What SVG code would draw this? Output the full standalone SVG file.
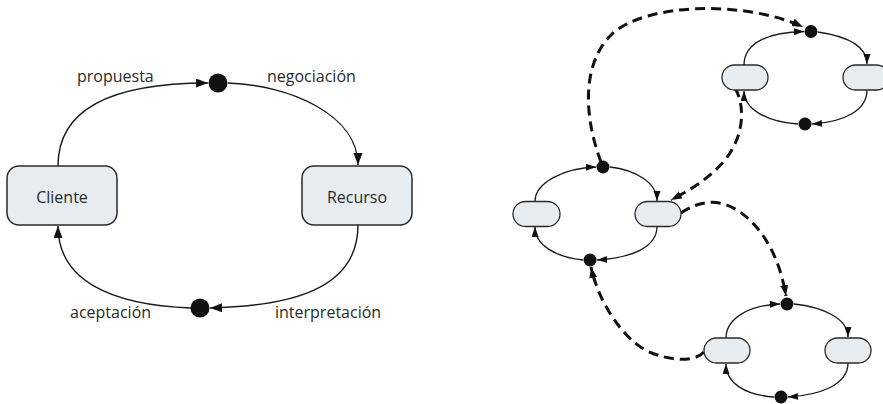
<svg xmlns="http://www.w3.org/2000/svg" width="883" height="404" viewBox="0 0 883 404">
<defs>
<style>
.box{fill:#e7ecf1;stroke:#2a2a2a;stroke-width:1.5}
.pill{fill:#e7ecf1;stroke:#2a2a2a;stroke-width:1.3}
.dot{fill:#111}
.lbl{font-family:"Open Sans","Noto Sans",sans-serif;font-size:16px;fill:#2a2a2a}
.c{text-anchor:middle}
.arcL{fill:none;stroke:#1a1a1a;stroke-width:1.4}
.arcS{fill:none;stroke:#1a1a1a;stroke-width:1.3}
.dash{fill:none;stroke:#111;stroke-width:3;stroke-dasharray:10 6}
</style>
<marker id="aL" markerUnits="userSpaceOnUse" markerWidth="14" markerHeight="10" refX="12" refY="4.5" orient="auto"><path d="M0,0 L12,4.5 L0,9 z" fill="#111"/></marker>
<marker id="aS" markerUnits="userSpaceOnUse" markerWidth="12" markerHeight="9" refX="10" refY="3.5" orient="auto"><path d="M0,0 L10,3.5 L0,7 z" fill="#111"/></marker>
<marker id="aD" markerUnits="userSpaceOnUse" markerWidth="14" markerHeight="10" refX="11" refY="4" orient="auto"><path d="M0,0 L11,4 L0,8 z" fill="#111"/></marker>
</defs>

<g id="connectors">
<path class="arcL" d="M58,166 C58,100 130,83 208,83" marker-end="url(#aL)"/>
<path class="arcL" d="M228,83 C290,85 358,115 358,165" marker-end="url(#aL)"/>
<path class="arcL" d="M358,225 C358,290 290,306 210,308" marker-end="url(#aL)"/>
<path class="arcL" d="M191,308 C110,305 58,280 58,226" marker-end="url(#aL)"/>

<path class="arcS" d="M744,65 C744,42 770,32 804,31.5" marker-end="url(#aS)"/>
<path class="arcS" d="M818,32 C845,36 867,45 867,64" marker-end="url(#aS)"/>
<path class="arcS" d="M867,90 C867,110 845,122 812,124" marker-end="url(#aS)"/>
<path class="arcS" d="M798,124 C765,122 744,108 744,91" marker-end="url(#aS)"/>

<path class="arcS" d="M535,201.5 C535,182 565,168 596,167" marker-end="url(#aS)"/>
<path class="arcS" d="M610,167 C635,170 657,182 657,201" marker-end="url(#aS)"/>
<path class="arcS" d="M657,226.5 C657,248 630,258 597,260" marker-end="url(#aS)"/>
<path class="arcS" d="M583,260 C555,257 535,245 535,227" marker-end="url(#aS)"/>

<path class="arcS" d="M726,338 C726,318 750,305 780,304" marker-end="url(#aS)"/>
<path class="arcS" d="M794,304 C822,307 848,318 848,337" marker-end="url(#aS)"/>
<path class="arcS" d="M848,363 C848,385 820,395 788,397" marker-end="url(#aS)"/>
<path class="arcS" d="M774,397 C745,395 726,383 726,364" marker-end="url(#aS)"/>

<path class="dash" d="M601,162 C585,120 580,65 612,34 C645,3 745,0 803,27" marker-end="url(#aD)"/>
<path class="dash" d="M735,88 C745,105 745,135 725,160 C710,178 690,190 671,200" marker-end="url(#aD)"/>
<path class="dash" d="M681,213 C700,200 720,198 740,212 C765,230 780,260 786,296" marker-end="url(#aD)"/>
<path class="dash" d="M704,352 C695,362 670,362 645,350 C620,335 598,300 591,267" marker-end="url(#aD)"/>
</g>

<g id="cliente"><rect class="box" x="7" y="166" width="110" height="59" rx="12"/><text class="lbl c" x="62" y="202.5">Cliente</text></g>
<g id="recurso"><rect class="box" x="302" y="166" width="110" height="59" rx="12"/><text class="lbl c" x="357" y="202.5">Recurso</text></g>
<g id="dot-negociacion"><circle class="dot" cx="218" cy="83" r="9.5"/></g>
<g id="dot-aceptacion"><circle class="dot" cx="200" cy="308" r="9.5"/></g>
<g id="labels">
<text class="lbl" x="77" y="81.5">propuesta</text>
<text class="lbl" x="267" y="81.5">negociación</text>
<text class="lbl" x="70" y="318">aceptación</text>
<text class="lbl" x="275" y="318">interpretación</text>
</g>

<g id="top-cluster">
<rect class="pill" x="722" y="65" width="46" height="25" rx="12.5"/>
<rect class="pill" x="843" y="65" width="46" height="25" rx="12.5"/>
<circle class="dot" cx="811" cy="31.5" r="6.5"/>
<circle class="dot" cx="805" cy="124" r="6.5"/>
</g>
<g id="middle-cluster">
<rect class="pill" x="513" y="201.5" width="47" height="25" rx="12.5"/>
<rect class="pill" x="635" y="201.5" width="46" height="25" rx="12.5"/>
<circle class="dot" cx="603" cy="167" r="6.5"/>
<circle class="dot" cx="590" cy="260" r="6.5"/>
</g>
<g id="bottom-cluster">
<rect class="pill" x="704" y="338" width="46" height="25" rx="12.5"/>
<rect class="pill" x="825" y="338" width="46" height="25" rx="12.5"/>
<circle class="dot" cx="787" cy="304" r="6.5"/>
<circle class="dot" cx="781" cy="397" r="6.5"/>
</g>
</svg>
